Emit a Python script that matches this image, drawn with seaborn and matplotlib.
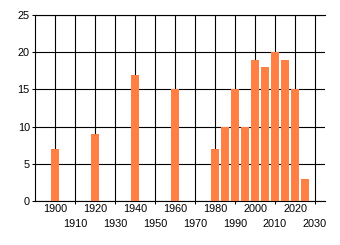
import matplotlib
matplotlib.use("Agg")
import matplotlib.pyplot as plt
import seaborn as sns
import pandas as pd
from matplotlib.ticker import FixedLocator, FixedFormatter

years = [1900, 1920, 1940, 1960, 1980, 1985, 1990, 1995, 2000, 2005, 2010, 2015, 2020, 2025]
values = [7, 9, 17, 15, 7, 10, 15, 10, 19, 18, 20, 19, 15, 3]
row1_ticks = [1900, 1920, 1940, 1960, 1980, 2000, 2020]
row2_ticks = [1910, 1930, 1950, 1970, 1990, 2010, 2030]
y_ticks = [0, 5, 10, 15, 20, 25]

df = pd.DataFrame({"year": years, "value": values})

sns.set_style("white")
plt.rcParams["font.family"] = ["Liberation Sans", "DejaVu Sans"]

fig = plt.figure(figsize=(3.4, 2.45), dpi=100)
ax = fig.add_axes([35 / 340, (245 - 201) / 245, 290 / 340, 186 / 245])

sns.barplot(data=df, x="year", y="value", native_scale=True, width=0.8,
            color="#FF8042", saturation=1, ax=ax, zorder=3, linewidth=0)

ax.set_xlim(1890, 2035)
ax.set_ylim(0, 25)
ax.set_xlabel("")
ax.set_ylabel("")

fs = 7.8
ax.xaxis.set_major_locator(FixedLocator(row1_ticks))
ax.xaxis.set_major_formatter(FixedFormatter([str(t) for t in row1_ticks]))
ax.xaxis.set_minor_locator(FixedLocator(row2_ticks))
ax.xaxis.set_minor_formatter(FixedFormatter([str(t) for t in row2_ticks]))
ax.tick_params(axis="x", which="major", length=0, pad=2.5, labelsize=fs, colors="black")
ax.tick_params(axis="x", which="minor", length=2.2, width=0.75, pad=11.0,
               labelsize=fs, colors="black", bottom=True)

ax.set_yticks(y_ticks)
ax.set_yticklabels([str(t) for t in y_ticks])
ax.tick_params(axis="y", which="major", length=2.2, width=0.75, pad=1.5,
               labelsize=fs, colors="black", left=True)

ax.grid(True, which="both", axis="x", color="black", linewidth=0.8)
ax.grid(True, which="major", axis="y", color="black", linewidth=0.8)
ax.set_axisbelow(True)

for side in ["left", "bottom", "top"]:
    ax.spines[side].set_visible(True)
    ax.spines[side].set_color("black")
    ax.spines[side].set_linewidth(0.8)
ax.spines["right"].set_visible(False)

fig.savefig("out.png", dpi=100)
